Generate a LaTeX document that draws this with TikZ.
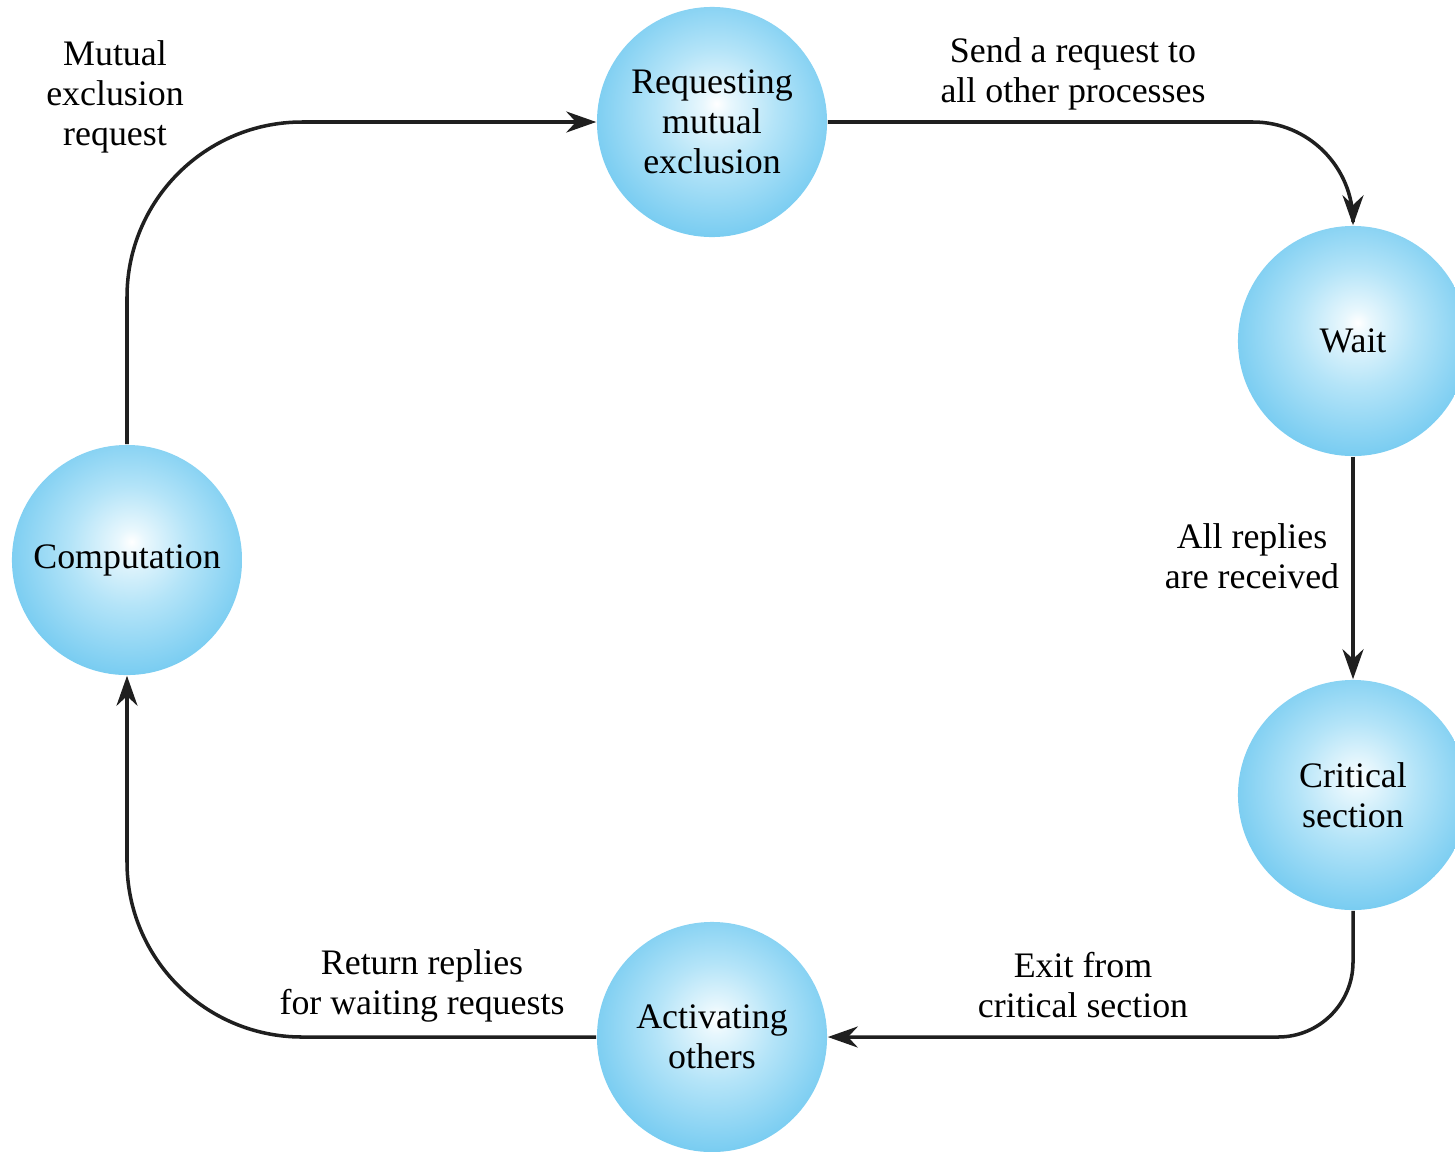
\documentclass[tikz,border=0pt]{standalone}
\usepackage{fontspec}
\setmainfont{Liberation Serif}
\usetikzlibrary{arrows.meta,positioning}
\definecolor{bubbleA}{RGB}{232,247,253}
\definecolor{bubbleB}{RGB}{180,228,248}
\definecolor{bubbleC}{RGB}{120,204,241}
\pgfdeclareradialshading{bubble}{\pgfpoint{1bp}{4bp}}{color(0bp)=(white); color(3bp)=(bubbleA); color(13bp)=(bubbleB); color(27bp)=(bubbleC); color(50bp)=(bubbleC)}
\newcommand{\txt}{\fontsize{10.2}{11.4}\selectfont}

\begin{document}
\begin{tikzpicture}[x=0.01cm, y=-0.01cm,
  state/.style={circle, minimum size=2.3cm, inner sep=0pt, shade, shading=bubble, align=center, font=\txt},
  lbl/.style={align=center, font=\txt},
  flow/.style={-{Stealth[length=3mm, width=2.1mm]}, line width=1pt, black!88}]
\useasboundingbox (0,0) rectangle (1455,1151);

% states
\node[state] (req)  at (712,122)  {Requesting\\mutual\\exclusion};
\node[state] (wait) at (1353,341) {Wait};
\node[state] (crit) at (1353,795) {Critical\\section};
\node[state] (act)  at (712,1037) {Activating\\others};
\node[state] (comp) at (127,560)  {Computation};

% transitions
\draw[flow, rounded corners=1.75cm] (comp.north) |- (req.west);
\draw[flow, rounded corners=1cm] (req.east) -| (wait.north);
\draw[flow] (wait.south) -- (crit.north);
\draw[flow, rounded corners=0.75cm] (crit.south) |- (act.east);
\draw[flow, rounded corners=1.75cm] (act.west) -| (comp.south);

% labels
\node[lbl] (lmutex) at (115,97)   {Mutual\\exclusion\\request};
\node[lbl] (lsend)  at (1073,74)  {Send a request to\\all other processes};
\node[lbl] (lrepl)  at (1252,556) {All replies\\are received};
\node[lbl] (lexit)  at (1083,985) {Exit from\\critical section};
\node[lbl] (lret)   at (422,986)  {Return replies\\for waiting requests};
\end{tikzpicture}
\end{document}
